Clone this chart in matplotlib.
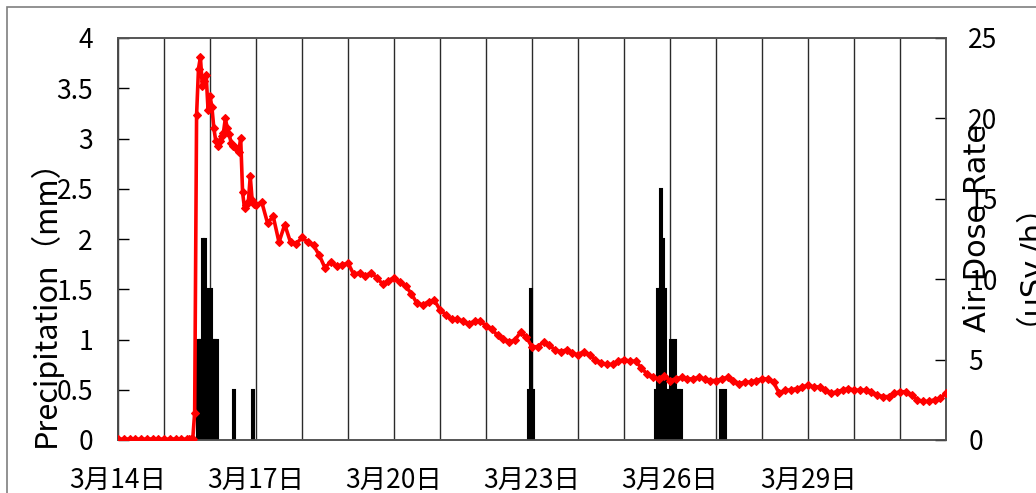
import numpy as np
import pandas as pd
import matplotlib
matplotlib.use('Agg')
import matplotlib.pyplot as plt
import matplotlib.dates as mdates
from matplotlib.patches import Rectangle

plt.rcParams['font.family'] = ['Noto Sans CJK JP', 'DejaVu Sans']

start = pd.Timestamp('2011-03-14 00:00')
end = pd.Timestamp('2011-04-01 00:00')

# air dose rate (uSv/h)
# every 3 h, 3/14 00:00 .. 3/15 12:00
dose_early = [0.05, 0.05, 0.06, 0.05, 0.05, 0.05, 0.06, 0.05, 0.05, 0.05,
              0.06, 0.05, 0.05]
# hourly, 3/15 13:00 .. 3/17 00:00
dose_peak = [0.05, 0.05, 0.06, 1.7, 20.2, 23.1, 23.8, 22.0, 22.3, 22.7,
             20.5, 21.4, 20.7, 19.4, 18.6, 18.3, 18.6, 18.9, 19.1, 20.0,
             19.4, 19.0, 18.5, 18.3, 18.2, 18.1, 17.9, 18.8, 15.4, 14.4,
             14.6, 14.8, 16.4, 14.9, 14.7, 14.6]
# every 3 h, 3/17 03:00 .. 4/1 00:00
dose_late = [14.8, 13.5, 13.9, 12.3, 13.4, 12.3, 12.2, 12.6, 12.3, 12.1,
             11.5, 10.7, 11.1, 10.8, 10.9, 11.0, 10.3, 10.4, 10.2, 10.4,
             10.1, 9.7, 9.9, 10.1, 9.8, 9.6, 9.1, 8.5, 8.4, 8.6,
             8.7, 8.1, 7.8, 7.5, 7.5, 7.4, 7.2, 7.4, 7.4, 7.1,
             6.9, 6.5, 6.3, 6.1, 6.2, 6.7, 6.4, 5.8, 5.8, 6.1,
             5.9, 5.6, 5.5, 5.6, 5.4, 5.3, 5.5, 5.3, 5.0, 4.8,
             4.7, 4.7, 4.9, 5.0, 4.9, 4.9, 4.5, 4.1, 3.9, 3.8,
             4.0, 3.7, 3.8, 3.9, 3.8, 3.8, 3.9, 3.8, 3.7, 3.7,
             3.8, 3.9, 3.7, 3.5, 3.6, 3.6, 3.7, 3.8, 3.8, 3.6,
             2.9, 3.1, 3.1, 3.2, 3.3, 3.4, 3.3, 3.3, 3.1, 2.9,
             3.0, 3.1, 3.2, 3.1, 3.1, 3.1, 3.0, 2.8, 2.7, 2.7,
             2.9, 3.0, 3.0, 2.8, 2.5, 2.4, 2.4, 2.5, 2.6, 2.9]

# hourly precipitation (mm), hours counted from 3/14 00:00
rain_hours = [41, 42, 43, 44, 45, 46, 47, 48, 49, 50, 51,
              60, 70,
              214, 215, 216,
              280, 281, 282, 283, 284, 285, 286, 287, 288, 289, 290, 291, 292, 293,
              314, 316]
rain_mm = [1.0, 1.0, 1.0, 2.0, 2.0, 1.5, 1.0, 1.5, 1.0, 1.0, 1.0,
           0.5, 0.5,
           0.5, 1.5, 0.5,
           0.5, 1.5, 1.5, 2.5, 2.0, 1.5, 0.5, 0.5, 1.0, 0.5, 1.0, 0.5, 0.5, 0.5,
           0.5, 0.5]

label_dates = ['2011-03-14', '2011-03-17', '2011-03-20', '2011-03-23',
               '2011-03-26', '2011-03-29']
left_ticks = [0, 0.5, 1, 1.5, 2, 2.5, 3, 3.5, 4]
right_ticks = [0, 5, 10, 15, 20, 25]

t0 = mdates.date2num(start)
t_dose = np.concatenate([
    t0 + np.arange(len(dose_early)) * 3 / 24,
    t0 + (37 + np.arange(len(dose_peak))) / 24,
    t0 + (75 + np.arange(len(dose_late)) * 3) / 24,
])
dose = np.concatenate([dose_early, dose_peak, dose_late])
t_rain = t0 + np.array(rain_hours) / 24

W, H = 1036, 493
fig = plt.figure(figsize=(W / 100, H / 100), dpi=100)
ax = fig.add_axes([118 / W, 1 - 440 / H, (946 - 118) / W, (440 - 38) / H])
ax2 = ax.twinx()

# outer chart border
fig.patches.append(Rectangle((7 / W, -0.1), 1.2, 1 - 7 / H + 0.1,
                             transform=fig.transFigure, fill=False,
                             edgecolor='#7f7f7f', linewidth=1.2))

ax.bar(t_rain, rain_mm, width=1 / 24, align='edge', color='black',
       edgecolor='black', linewidth=1.5, zorder=3)
ax2.plot(t_dose, dose, color='#ff0000', linewidth=2.6, marker='D',
         markersize=4.5, markeredgewidth=0.8, zorder=4)

ax.set_xlim(t0, mdates.date2num(end))
ax.set_ylim(0, 4)
ax2.set_ylim(0, 25)

# daily vertical grid
ax.xaxis.set_minor_locator(mdates.DayLocator())
ax.grid(True, which='minor', axis='x', color='#2a2a2a', linewidth=1, zorder=0)
ax.grid(True, which='major', axis='x', color='#2a2a2a', linewidth=1, zorder=0)
ax.set_axisbelow(True)

lab_num = [mdates.date2num(pd.Timestamp(d)) for d in label_dates]
ax.set_xticks(lab_num)
ax.set_xticklabels([f'{pd.Timestamp(d).month}月{pd.Timestamp(d).day}日'
                    for d in label_dates])
ax.tick_params(axis='x', which='both', length=0, pad=20, labelsize=19)

ax.set_yticks(left_ticks)
ax.set_yticklabels([f'{v:g}' for v in left_ticks])
ax.tick_params(axis='y', direction='in', length=8, width=1, pad=18,
               labelsize=19)
ax2.set_yticks(right_ticks)
ax2.tick_params(axis='y', direction='in', length=8, width=1, pad=16,
                labelsize=19)

for a in (ax, ax2):
    for s in a.spines.values():
        s.set_color('#555555')
        s.set_linewidth(1.2)
ax.spines['left'].set_color('black')

fig.text(45 / W, 1 - 295 / H, 'Precipitation（mm）', rotation=90,
         ha='center', va='center', fontsize=22)
fig.text(977 / W, 1 - 228 / H, 'Air Dose Rate', rotation=90,
         ha='center', va='center', fontsize=22,
         family=['DejaVu Sans', 'Noto Sans CJK JP'])
fig.text(1012 / W, 1 - 248 / H, '（μSv./h）', rotation=90,
         ha='center', va='center', fontsize=22,
         family=['DejaVu Sans', 'Noto Sans CJK JP'])

fig.savefig('out.png', dpi=100)
